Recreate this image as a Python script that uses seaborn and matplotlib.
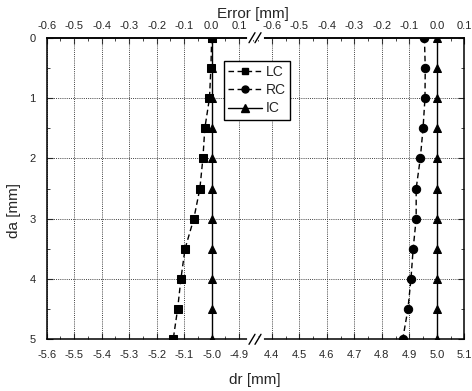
import matplotlib
matplotlib.use("Agg")
import matplotlib.pyplot as plt
from matplotlib.lines import Line2D
from matplotlib.ticker import MultipleLocator, FormatStrFormatter, FixedLocator
import seaborn as sns

# depth along the axis [mm]
da = [0.0, 0.5, 1.0, 1.5, 2.0, 2.5, 3.0, 3.5, 4.0, 4.5, 5.0]
# measured radial positions [mm]
lc_dr = [-5.000, -5.003, -5.008, -5.025, -5.032, -5.043, -5.065, -5.097, -5.112, -5.124, -5.140]
rc_dr = [4.955, 4.958, 4.957, 4.950, 4.940, 4.925, 4.925, 4.914, 4.906, 4.895, 4.876]
ic_dr_left = [-5.0, -5.0, -5.0, -5.0, -5.0, -5.0, -5.0, -5.0, -5.0, -5.0, -5.0]
ic_dr_right = [5.0, 5.0, 5.0, 5.0, 5.0, 5.0, 5.0, 5.0, 5.0, 5.0, 5.0]

left_ticks = [-5.6, -5.5, -5.4, -5.3, -5.2, -5.1, -5.0, -4.9]
right_ticks = [4.4, 4.5, 4.6, 4.7, 4.8, 4.9, 5.0, 5.1]
error_ticks = [-0.6, -0.5, -0.4, -0.3, -0.2, -0.1, 0.0, 0.1]
da_ticks = [0, 1, 2, 3, 4, 5]
series_labels = ["LC", "RC", "IC"]

sns.set_style("white")
plt.rcParams["font.family"] = ["Liberation Sans", "DejaVu Sans"]
plt.rcParams["axes.unicode_minus"] = False

W, H = 472, 391
fig = plt.figure(figsize=(W / 100, H / 100), dpi=100)


def fx(px):
    return px / W


def fy(py):
    return 1 - py / H


x0, xb, x1 = 46.7, 256.0, 464.3
y0, y1 = 37.7, 339.3
scale = 275.0  # pixels per mm on the dr axis

axL = fig.add_axes([fx(x0), fy(y1), fx(xb) - fx(x0), fy(y0) - fy(y1)])
axR = fig.add_axes([fx(xb), fy(y1), fx(x1) - fx(xb), fy(y0) - fy(y1)])

axL.set_xlim(-5.6, -5.6 + (xb - x0) / scale)
axR.set_xlim(5.1 - (x1 - xb) / scale, 5.1)

line_kw = dict(color="k", markeredgecolor="k", markersize=6, linewidth=1.0,
               sort=False, estimator=None, orient="y", clip_on=True)

sns.lineplot(x=lc_dr, y=da, ax=axL, marker="s", linestyle=(0, (4, 2.5)), **line_kw)
sns.lineplot(x=ic_dr_left, y=da, ax=axL, marker="^", linestyle="-", **line_kw)
sns.lineplot(x=rc_dr, y=da, ax=axR, marker="o", linestyle=(0, (4, 2.5)), **line_kw)
sns.lineplot(x=ic_dr_right, y=da, ax=axR, marker="^", linestyle="-", **line_kw)

tick_fs = 8
for ax, ticks in ((axL, left_ticks), (axR, right_ticks)):
    ax.set_ylim(5, 0)
    ax.set_xlabel("")
    ax.set_ylabel("")
    ax.xaxis.set_major_locator(FixedLocator(ticks))
    ax.xaxis.set_major_formatter(FormatStrFormatter("%.1f"))
    ax.xaxis.set_minor_locator(MultipleLocator(0.05))
    ax.yaxis.set_major_locator(FixedLocator(da_ticks))
    ax.yaxis.set_minor_locator(MultipleLocator(0.5))
    ax.grid(True, which="major", linestyle=(0, (1, 1.2)), color="0.25", linewidth=0.7)
    ax.tick_params(axis="x", which="both", direction="in", labelsize=tick_fs, pad=8,
                   top=False, bottom=True)
    ax.tick_params(axis="x", which="major", length=4)
    ax.tick_params(axis="x", which="minor", length=2)
    for sp in ax.spines.values():
        sp.set_color("k")
        sp.set_linewidth(1.1)
    for ln in ax.lines:
        ln.set_clip_on(True)

axL.spines["right"].set_visible(False)
axR.spines["left"].set_visible(False)
axL.tick_params(axis="y", which="both", direction="in", labelsize=tick_fs, pad=8,
                left=True, right=False)
axL.tick_params(axis="y", which="major", length=4)
axL.tick_params(axis="y", which="minor", length=2)
axR.tick_params(axis="y", which="both", direction="in", left=False, right=True,
                labelleft=False, labelright=False)
axR.tick_params(axis="y", which="major", length=4)
axR.tick_params(axis="y", which="minor", length=2)

# top axes: error relative to the nominal radius of 5 mm
secL = axL.secondary_xaxis("top", functions=(lambda x: x + 5.0, lambda e: e - 5.0))
secR = axR.secondary_xaxis("top", functions=(lambda x: x - 5.0, lambda e: e + 5.0))
for sec in (secL, secR):
    sec.xaxis.set_major_locator(FixedLocator(error_ticks))
    sec.xaxis.set_major_formatter(FormatStrFormatter("%.1f"))
    sec.xaxis.set_minor_locator(MultipleLocator(0.05))
    sec.tick_params(which="both", direction="in", labelsize=tick_fs, pad=5)
    sec.tick_params(which="major", length=4)
    sec.tick_params(which="minor", length=2)
    for sp in sec.spines.values():
        sp.set_linewidth(1.1)
        sp.set_color("k")

fig.text(fx(253), fy(14), "Error [mm]", ha="center", va="center", fontsize=11)
fig.text(fx(255), fy(380), "dr [mm]", ha="center", va="center", fontsize=11)
fig.text(fx(14), fy(211), "da [mm]", ha="center", va="center", rotation=90, fontsize=11)

# axis break marks
for yc in (y0, y1):
    fig.add_artist(Line2D([fx(249), fx(262)], [fy(yc), fy(yc)], color="white",
                          linewidth=3, transform=fig.transFigure))
    for xs in (249.0, 255.0):
        fig.add_artist(Line2D([fx(xs), fx(xs + 6)], [fy(yc + 5), fy(yc - 5)], color="k",
                              linewidth=1.0, transform=fig.transFigure))

handles = [
    Line2D([], [], color="k", marker="s", markersize=5, linestyle=(0, (4, 2.5)), linewidth=1.0),
    Line2D([], [], color="k", marker="o", markersize=5, linestyle=(0, (4, 2.5)), linewidth=1.0),
    Line2D([], [], color="k", marker="^", markersize=6, linestyle="-", linewidth=1.0),
]
leg = fig.legend(handles, series_labels, loc="upper left",
                 bbox_to_anchor=(fx(224), fy(61)), bbox_transform=fig.transFigure,
                 frameon=True, fancybox=False, edgecolor="k", framealpha=1,
                 fontsize=10, handlelength=2.4, borderpad=0.3, labelspacing=0.3,
                 handletextpad=0.3, borderaxespad=0)
leg.get_frame().set_linewidth(1.0)

fig.savefig("out.png", dpi=100)
